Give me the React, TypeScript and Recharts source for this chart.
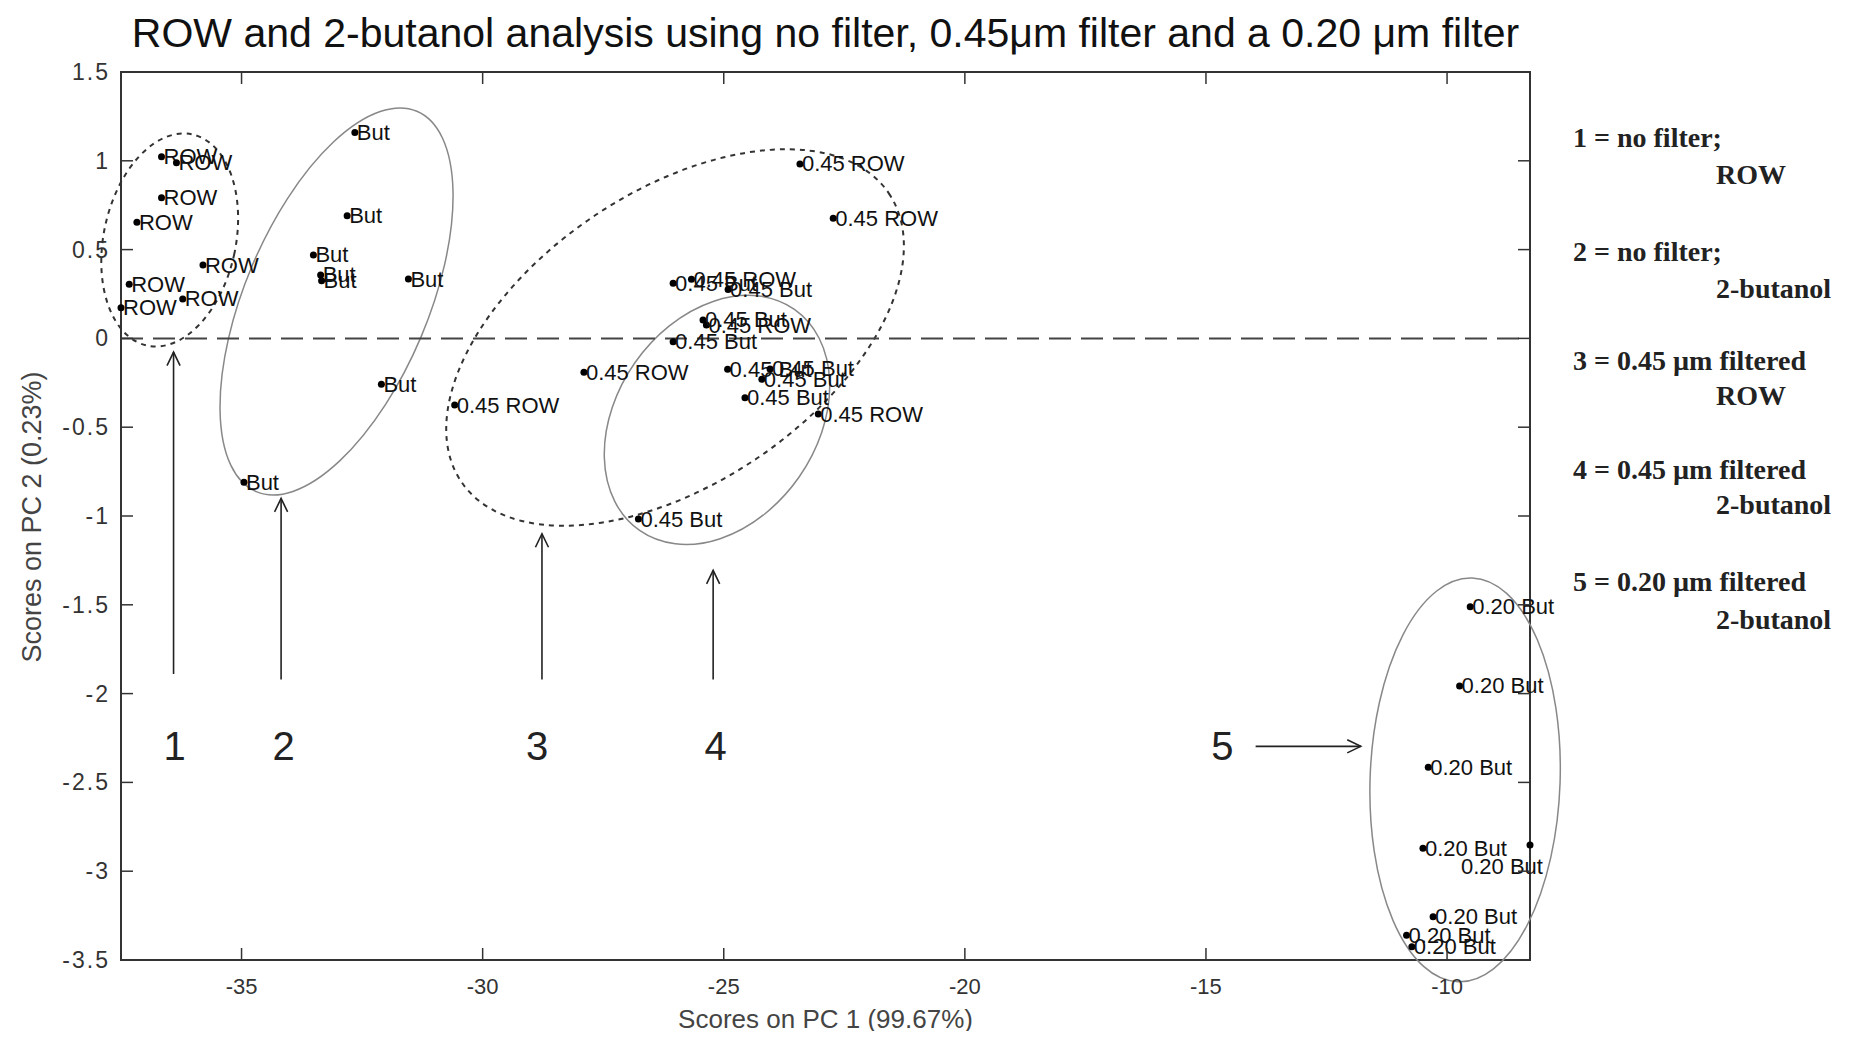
import React from "react";
import {
  ScatterChart,
  Scatter,
  XAxis,
  YAxis,
  ReferenceLine,
  ReferenceArea,
  ReferenceDot,
} from "recharts";

// PC1 / PC2 scores
const rowNoFilter = [
  [-36.66, 1.023], [-36.35, 0.989], [-36.66, 0.792], [-37.17, 0.654],
  [-35.8, 0.413], [-37.33, 0.305], [-36.22, 0.222], [-37.5, 0.173],
];
const butNoFilter = [
  [-32.65, 1.16], [-32.81, 0.691], [-33.51, 0.47], [-33.36, 0.357],
  [-33.34, 0.325], [-31.54, 0.334], [-32.1, -0.258], [-34.95, -0.81],
];
const row045 = [
  [-23.42, 0.982], [-22.73, 0.676], [-25.67, 0.333], [-25.36, 0.075],
  [-27.9, -0.191], [-30.58, -0.375], [-23.04, -0.426],
];
const but045 = [
  [-26.05, 0.31], [-24.91, 0.276], [-25.43, 0.104], [-26.05, -0.019],
  [-24.92, -0.174], [-24.04, -0.172], [-24.21, -0.23], [-24.56, -0.334],
  [-26.77, -1.017],
];
const but020 = [
  [-9.52, -1.511], [-9.74, -1.957], [-10.39, -2.415], [-10.5, -2.871],
  [-8.28, -2.853], [-10.29, -3.256], [-10.84, -3.36], [-10.73, -3.425],
];

const xTicks = [-35, -30, -25, -20, -15, -10];
const yTicks = [1.5, 1, 0.5, 0, -0.5, -1, -1.5, -2, -2.5, -3, -3.5];

// group outlines: centre, unrotated width/height (data units), tilt in degrees
const groupOutlines = [
  { cx: -36.49, cy: 0.554, w: 2.74, h: 1.216, angle: 12, dashed: true },
  { cx: -33.03, cy: 0.208, w: 3.8, h: 2.325, angle: 22.9, dashed: false },
  { cx: -26.01, cy: 0.005, w: 10.695, h: 1.644, angle: -34, dashed: true },
  { cx: -25.14, cy: -0.459, w: 4.149, h: 1.52, angle: 35, dashed: false },
  { cx: -9.626, cy: -2.486, w: 3.941, h: 2.275, angle: 2, dashed: false },
];

const arrows = [
  { x1: -36.41, y1: -1.89, x2: -36.41, y2: -0.077 },
  { x1: -34.18, y1: -1.92, x2: -34.18, y2: -0.901 },
  { x1: -28.77, y1: -1.92, x2: -28.77, y2: -1.1 },
  { x1: -25.22, y1: -1.92, x2: -25.22, y2: -1.306 },
  { x1: -13.97, y1: -2.297, x2: -11.79, y2: -2.297 },
];
const callouts = [
  { label: "1", x: -36.39, y: -2.297 },
  { label: "2", x: -34.13, y: -2.297 },
  { label: "3", x: -28.87, y: -2.297 },
  { label: "4", x: -25.17, y: -2.297 },
  { label: "5", x: -14.66, y: -2.297 },
];

const legendLines = [
  ["1 = no filter;", "ROW"],
  ["2 = no filter;", "2-butanol"],
  ["3 = 0.45 \u00b5m filtered", "ROW"],
  ["4 = 0.45 \u00b5m filtered", "2-butanol"],
  ["5 = 0.20 \u00b5m filtered", "2-butanol"],
];

const X_MIN = -37.5;
const X_MAX = -8.28;
const Y_MIN = -3.5;
const Y_MAX = 1.5;

const W = 1836;
const H = 1023;
const PLOT = { left: 113, right: 1522, top: 64, bottom: 952 };
const SANS = "'Liberation Sans', Arial, sans-serif";
const SERIF = "'Liberation Serif', 'Times New Roman', serif";

const toPoints = (arr: number[][], label: string) =>
  arr.map(([x, y]) => ({ x, y, label }));

function XTick({ x, payload }: any) {
  return (
    <g>
      <line x1={x} x2={x} y1={PLOT.bottom} y2={PLOT.bottom - 12} stroke="#333" strokeWidth={1.5} />
      <line x1={x} x2={x} y1={PLOT.top} y2={PLOT.top + 12} stroke="#333" strokeWidth={1.5} />
      <text x={x} y={PLOT.bottom + 26} textAnchor="middle" dominantBaseline="central"
        fontSize={22} fill="#333" fontFamily={SANS}>
        {payload.value}
      </text>
    </g>
  );
}

function YTick({ y, payload }: any) {
  return (
    <g>
      <line x1={PLOT.left} x2={PLOT.left + 12} y1={y} y2={y} stroke="#333" strokeWidth={1.5} />
      <line x1={PLOT.right} x2={PLOT.right - 12} y1={y} y2={y} stroke="#333" strokeWidth={1.5} />
      <text x={PLOT.left - 11} y={y} textAnchor="end" dominantBaseline="central"
        fontSize={23} fill="#333" fontFamily={SANS} letterSpacing={2}>
        {payload.value}
      </text>
    </g>
  );
}

function PointMark({ cx, cy, payload }: any) {
  // the label of the point sitting on the right border is pushed below it
  const atEdge = payload.x >= X_MAX - 0.01;
  return (
    <g>
      <circle cx={cx} cy={cy} r={3.5} fill="#000" />
      <text
        x={atEdge ? cx - 28 : cx + 2}
        y={atEdge ? cy + 21 : cy}
        textAnchor={atEdge ? "middle" : "start"}
        dominantBaseline="central"
        fontSize={22}
        fill="#111"
        fontFamily={SANS}
      >
        {payload.label}
      </text>
    </g>
  );
}

function OutlineShape({ x, y, width, height, angle, dashed }: any) {
  const cx = x + width / 2;
  const cy = y + height / 2;
  return (
    <ellipse
      cx={cx}
      cy={cy}
      rx={Math.abs(width) / 2}
      ry={Math.abs(height) / 2}
      transform={`rotate(${angle} ${cx} ${cy})`}
      fill="none"
      stroke={dashed ? "#333" : "#888"}
      strokeWidth={dashed ? 2 : 1.5}
      strokeDasharray={dashed ? "5 5" : undefined}
    />
  );
}

function ArrowShape({ x1, y1, x2, y2 }: any) {
  const len = Math.hypot(x2 - x1, y2 - y1) || 1;
  const ux = (x2 - x1) / len;
  const uy = (y2 - y1) / len;
  const head = 15;
  const spread = 0.45;
  const hx1 = x2 - head * (ux * Math.cos(spread) - uy * Math.sin(spread));
  const hy1 = y2 - head * (uy * Math.cos(spread) + ux * Math.sin(spread));
  const hx2 = x2 - head * (ux * Math.cos(spread) + uy * Math.sin(spread));
  const hy2 = y2 - head * (uy * Math.cos(spread) - ux * Math.sin(spread));
  return (
    <g stroke="#222" strokeWidth={1.6} fill="none">
      <line x1={x1} y1={y1} x2={x2} y2={y2} />
      <polyline points={`${hx1},${hy1} ${x2},${y2} ${hx2},${hy2}`} />
    </g>
  );
}

function CalloutText({ cx, cy, label }: any) {
  return (
    <text x={cx} y={cy} textAnchor="middle" dominantBaseline="central"
      fontSize={40} fill="#222" fontFamily={SANS}>
      {label}
    </text>
  );
}

export default function App() {
  return (
    <div style={{ position: "relative", width: W, height: H }}>
      <ScatterChart
        width={W}
        height={H}
        margin={{ top: PLOT.top, right: W - PLOT.right, bottom: 41, left: 53 }}
      >
        <XAxis
          type="number"
          dataKey="x"
          domain={[X_MIN, X_MAX]}
          ticks={xTicks}
          height={30}
          axisLine={false}
          tickLine={false}
          tickSize={0}
          tickMargin={0}
          tick={(p: any) => <XTick {...p} />}
        />
        <YAxis
          type="number"
          dataKey="y"
          domain={[Y_MIN, Y_MAX]}
          ticks={yTicks}
          width={60}
          axisLine={false}
          tickLine={false}
          tickSize={0}
          tickMargin={0}
          tick={(p: any) => <YTick {...p} />}
        />
        <ReferenceArea
          x1={X_MIN}
          x2={X_MAX}
          y1={Y_MIN}
          y2={Y_MAX}
          fill="none"
          stroke="#333"
          strokeWidth={2}
          ifOverflow="visible"
        />
        <ReferenceLine y={0} stroke="#444" strokeWidth={2} strokeDasharray="22 10" />
        {groupOutlines.map((e, i) => (
          <ReferenceArea
            key={`o${i}`}
            x1={e.cx - e.w / 2}
            x2={e.cx + e.w / 2}
            y1={e.cy - e.h / 2}
            y2={e.cy + e.h / 2}
            ifOverflow="visible"
            shape={(p: any) => <OutlineShape {...p} angle={e.angle} dashed={e.dashed} />}
          />
        ))}
        {arrows.map((a, i) => (
          <ReferenceLine
            key={`a${i}`}
            segment={[{ x: a.x1, y: a.y1 }, { x: a.x2, y: a.y2 }]}
            ifOverflow="visible"
            shape={(p: any) => <ArrowShape {...p} />}
          />
        ))}
        {callouts.map((c) => (
          <ReferenceDot
            key={`c${c.label}`}
            x={c.x}
            y={c.y}
            r={0}
            ifOverflow="visible"
            shape={(p: any) => <CalloutText {...p} label={c.label} />}
          />
        ))}
        <Scatter data={toPoints(rowNoFilter, "ROW")} shape={(p: any) => <PointMark {...p} />} isAnimationActive={false} />
        <Scatter data={toPoints(butNoFilter, "But")} shape={(p: any) => <PointMark {...p} />} isAnimationActive={false} />
        <Scatter data={toPoints(row045, "0.45 ROW")} shape={(p: any) => <PointMark {...p} />} isAnimationActive={false} />
        <Scatter data={toPoints(but045, "0.45 But")} shape={(p: any) => <PointMark {...p} />} isAnimationActive={false} />
        <Scatter data={toPoints(but020, "0.20 But")} shape={(p: any) => <PointMark {...p} />} isAnimationActive={false} />
      </ScatterChart>

      <div
        style={{
          position: "absolute",
          left: (PLOT.left + PLOT.right) / 2,
          top: 25,
          transform: "translate(-50%, -50%)",
          whiteSpace: "nowrap",
          fontFamily: SANS,
          fontSize: 41,
          lineHeight: 1,
          color: "#111",
        }}
      >
        ROW and 2-butanol analysis using no filter, 0.45μm filter and a 0.20 μm filter
      </div>

      <div
        style={{
          position: "absolute",
          left: (PLOT.left + PLOT.right) / 2,
          top: 1011,
          transform: "translate(-50%, -50%)",
          whiteSpace: "nowrap",
          fontFamily: SANS,
          fontSize: 26,
          lineHeight: 1,
          color: "#444",
        }}
      >
        Scores on PC 1 (99.67%)
      </div>

      <div
        style={{
          position: "absolute",
          left: 24,
          top: 509,
          transform: "translate(-50%, -50%) rotate(-90deg)",
          whiteSpace: "nowrap",
          fontFamily: SANS,
          fontSize: 27,
          lineHeight: 1,
          color: "#444",
        }}
      >
        Scores on PC 2 (0.23%)
      </div>

      {legendLines.map(([head, tail], i) => {
        const tops = [130, 244, 353, 462, 574];
        const gaps = [37, 37, 35, 35, 38];
        const base = {
          position: "absolute" as const,
          transform: "translateY(-50%)",
          whiteSpace: "nowrap" as const,
          fontFamily: SERIF,
          fontWeight: 700,
          fontSize: 28,
          lineHeight: 1,
          color: "#222",
        };
        return (
          <React.Fragment key={head}>
            <div style={{ ...base, left: 1565, top: tops[i] }}>{head}</div>
            <div style={{ ...base, left: 1708, top: tops[i] + gaps[i] }}>{tail}</div>
          </React.Fragment>
        );
      })}
    </div>
  );
}
